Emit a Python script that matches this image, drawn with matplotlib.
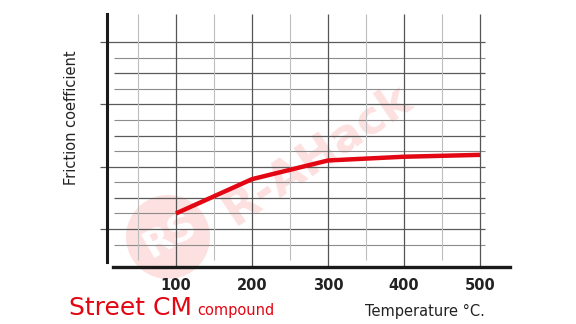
import matplotlib
matplotlib.use("Agg")
import matplotlib.pyplot as plt
from matplotlib.patches import Circle
import numpy as np

# ---- data ----
temps = [100, 200, 300, 400, 500]
friction = [1.25, 1.80, 2.10, 2.16, 2.19]
xtick_labels = ["100", "200", "300", "400", "500"]
y_major = [1.0, 2.0, 3.0, 4.0]
y_medium = [1.5, 2.5, 3.5]
y_minor = [0.75, 1.25, 1.75, 2.25, 2.75, 3.25, 3.75]
x_major = [100, 200, 300, 400, 500]
x_minor = [50, 150, 250, 350, 450]

W, H = 576, 324
fig = plt.figure(figsize=(W / 100, H / 100), dpi=100)
fig.patch.set_facecolor("white")

# axes placed in pixel geometry
L, R, T, B = 107, 510, 14, 266.7
ax = fig.add_axes([L / W, (H - B) / H, (R - L) / W, (B - T) / H])
ax.set_facecolor("none")
ax.set_xlim(9.2, 539.5)
ax.set_ylim(0.395, 4.451)

# watermark (behind everything)
pale = "#fde0e0"
wm_circle = Circle((1.68, (H - 237) / 100), 0.42, transform=fig.dpi_scale_trans,
                   facecolor=pale, edgecolor="none", zorder=-2)
fig.add_artist(wm_circle)
fig.text(170 / W, 1 - 236 / H, "RS", color="white", fontsize=27, fontweight="bold",
         rotation=30, ha="center", va="center", zorder=-1)
fig.text(318 / W, 1 - 154 / H, "R-AHack", color=pale, fontsize=33, fontweight="bold",
         rotation=34, ha="center", va="center", zorder=-1)

# grid lines
hx0_major = 9.2
hx0 = 18.4
hx1 = 506.6
ax.hlines(y_minor, hx0, hx1, color="#8c8c8c", lw=0.8, zorder=1)
ax.hlines(y_medium, hx0, hx1, color="#5a5a5a", lw=0.9, zorder=1)
ax.hlines(y_major, hx0_major, hx1, color="#5a5a5a", lw=0.9, zorder=1)
ax.vlines(x_major, 0.395, 4.451, color="#555555", lw=0.9, zorder=1)
ax.vlines(x_minor, 0.50, 4.451, color="#bdbdbd", lw=0.8, zorder=1)

# data line
ax.plot(temps, friction, color="#e30613", lw=3.2, solid_capstyle="butt",
        solid_joinstyle="miter", zorder=3)

# spines
for s in ["top", "right"]:
    ax.spines[s].set_visible(False)
ax.spines["left"].set_linewidth(2.2)
ax.spines["left"].set_color("#1a1a1a")
ax.spines["left"].set_bounds(0.47, 4.451)
ax.spines["bottom"].set_linewidth(2.4)
ax.spines["bottom"].set_color("#1a1a1a")
ax.spines["bottom"].set_bounds(17.1, 539.5)

# ticks
ax.set_xticks(x_major)
ax.set_xticklabels(xtick_labels, fontsize=10.5, fontweight="bold", color="#222222")
ax.tick_params(axis="x", length=0, pad=8)
ax.set_yticks(y_major)
ax.set_yticklabels([])
ax.tick_params(axis="y", length=5, width=0.9, color="#5a5a5a", direction="out")

# labels
fig.text(71 / W, 1 - 118 / H, "Friction coefficient", rotation=90, fontsize=10.5,
         color="#222222", ha="center", va="center")
fig.text(425 / W, 1 - 311 / H, "Temperature °C.", fontsize=10.5,
         color="#222222", ha="center", va="center")
fig.text(69 / W, 1 - 308 / H, "Street CM", fontsize=18, color="#e30613",
         ha="left", va="center")
fig.text(197 / W, 1 - 310 / H, "compound", fontsize=10.5, color="#e30613",
         ha="left", va="center")

fig.savefig("out.png", dpi=100)
